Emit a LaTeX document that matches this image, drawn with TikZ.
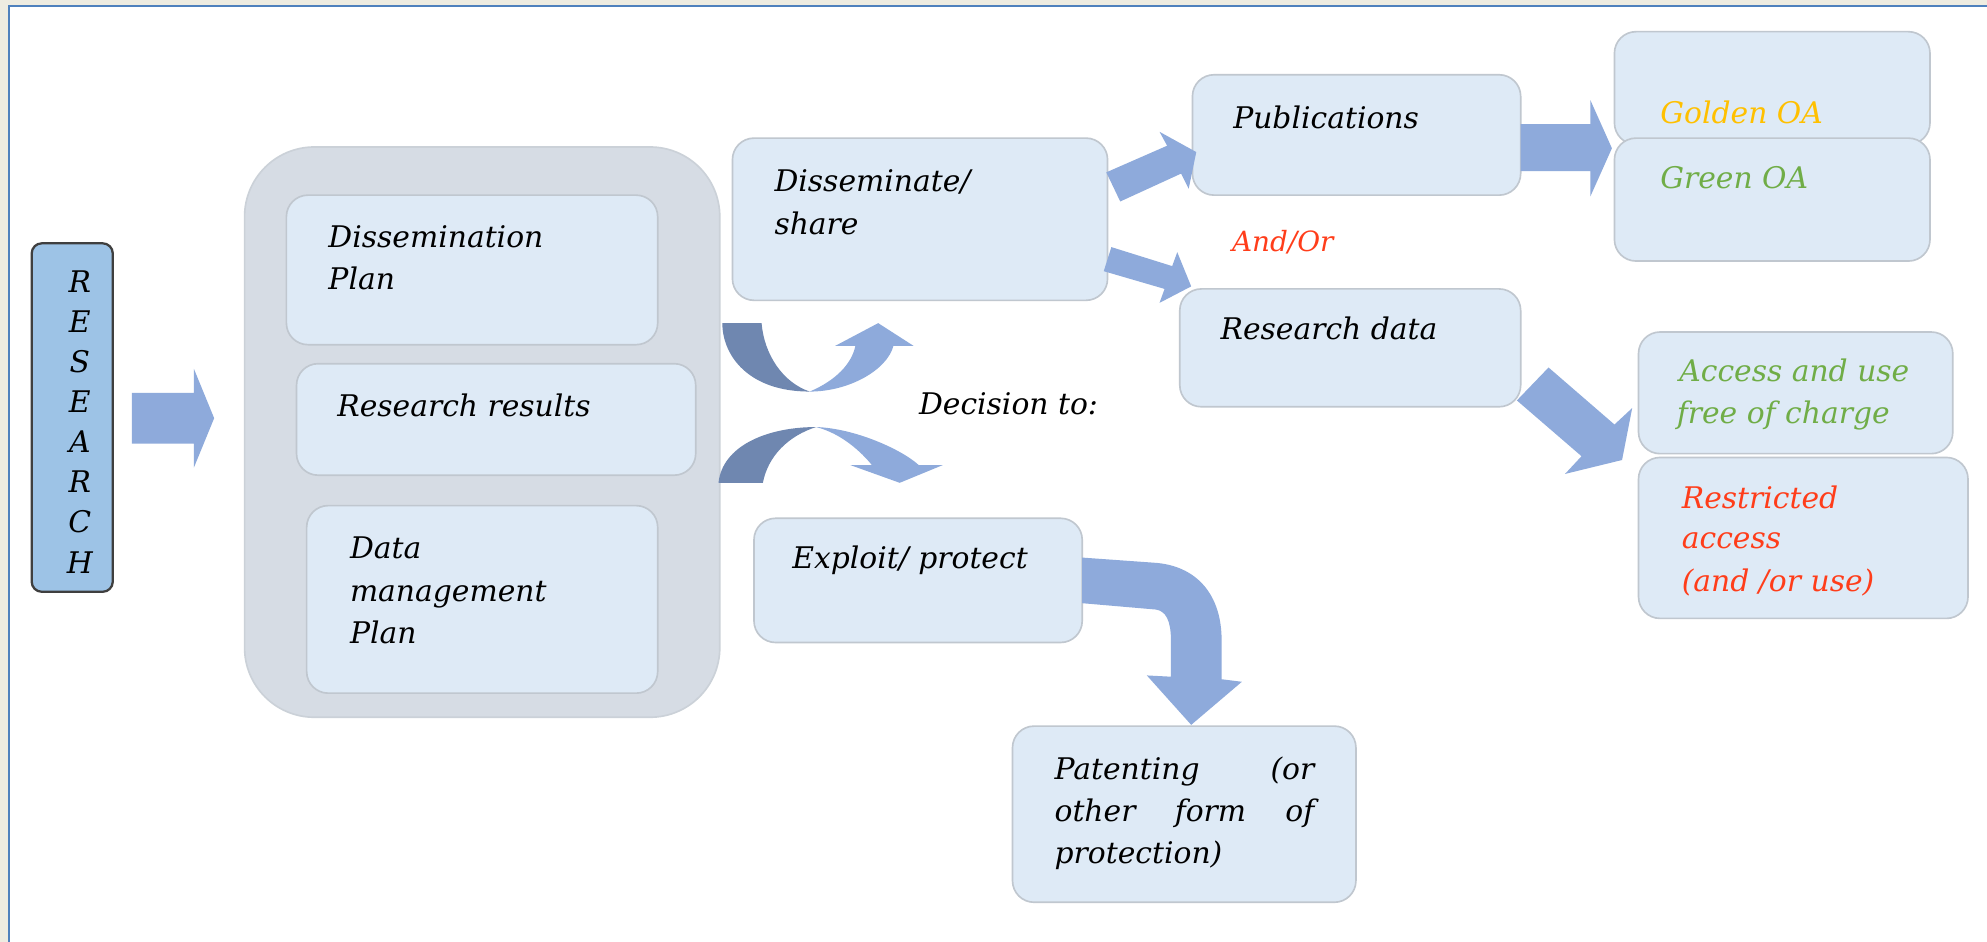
\documentclass[tikz,border=0pt]{standalone}
\usepackage{fontspec}
\setmainfont{DejaVu Serif}
\definecolor{boxfill}{HTML}{DEEAF6}
\definecolor{boxline}{HTML}{C0C7CF}
\definecolor{contfill}{HTML}{D6DCE4}
\definecolor{contline}{HTML}{CBD1D8}
\definecolor{resfill}{HTML}{9DC3E6}
\definecolor{resline}{HTML}{3F3F3F}
\definecolor{arrowc}{HTML}{8EAADB}
\definecolor{arrowd}{HTML}{6F87B0}
\definecolor{gold}{HTML}{FFC000}
\definecolor{grn}{HTML}{70AD47}
\definecolor{redo}{HTML}{FF3D1A}
\definecolor{framebg}{HTML}{EEECE1}
\definecolor{frameline}{HTML}{4F81BD}
\tikzset{
  box/.style={draw=boxline, fill=boxfill, line width=1.3pt, rounded corners=17pt, inner sep=0pt},
  txt/.style={font=\fontsize{23.5}{33}\selectfont\itshape, anchor=base west, inner sep=0pt},
  blockarrow/.style={fill=arrowc},
  darkarrow/.style={fill=arrowd}
}
\begin{document}
\begin{tikzpicture}[x=1pt,y=-1pt]
\useasboundingbox (0,0) rectangle (1568,743);
\fill[white] (0,0) rectangle (1568,743);
\fill[framebg] (0,0) rectangle (1568,4.5);
\fill[framebg] (0,0) rectangle (6.5,743);
\draw[frameline, line width=1.8pt] (7.3,743) -- (7.3,4.6) -- (1568,4.6);

% boxes
\node[draw=resline, fill=resfill, line width=1.8pt, rounded corners=8pt, inner sep=0pt,
      minimum width=64pt, minimum height=275pt] (research) at (57,329.5) {};
\node[draw=contline, fill=contfill, line width=1.3pt, rounded corners=55pt, inner sep=0pt,
      minimum width=375pt, minimum height=450pt] (container) at (380.5,341) {};
\node[box, minimum width=293pt, minimum height=118pt] (dplan) at (372.5,213) {};
\node[box, minimum width=315pt, minimum height=88pt] (rresults) at (391.5,331) {};
\node[box, minimum width=277pt, minimum height=148pt] (dmp) at (380.5,473) {};
\node[box, minimum width=296pt, minimum height=128pt] (dissem) at (726,173) {};
\node[box, minimum width=259pt, minimum height=95pt] (pubs) at (1070.5,106.5) {};
\node[box, minimum width=249pt, minimum height=89pt] (golden) at (1398.5,69.5) {};
\node[box, minimum width=249pt, minimum height=97pt] (green) at (1398.5,157.5) {};
\node[box, minimum width=269pt, minimum height=93pt] (rdata) at (1065.5,274.5) {};
\node[box, minimum width=248pt, minimum height=96pt] (access) at (1417,310) {};
\node[box, minimum width=260pt, minimum height=127pt] (restricted) at (1423,424.5) {};
\node[box, minimum width=259pt, minimum height=98pt] (exploit) at (724.5,458) {};
\node[box, minimum width=271pt, minimum height=139pt] (patent) at (934.5,642.5) {};

% block arrows
\fill[blockarrow] (104,310) -- (153,310) -- (153,291) -- (169,330) -- (153,369) -- (153,350) -- (104,350) -- cycle;
\fill[blockarrow] (873,136) -- (921,115) -- (915,104) -- (944,120) -- (938,149) -- (932,137) -- (884,159) -- cycle;
\fill[blockarrow] (877,195) -- (925,210) -- (929,199) -- (940,226) -- (915,239) -- (919,228) -- (871,214) -- cycle;
\fill[blockarrow] (1200,98) -- (1255,98) -- (1255,79) -- (1272,117) -- (1255,155) -- (1255,135) -- (1200,135) -- cycle;
\fill[blockarrow] (1222,290) -- (1274,335) -- (1288,322) -- (1280,363) -- (1235,374) -- (1248,360) -- (1197,316) -- cycle;
\fill[blockarrow] (854,440) -- (910,444) .. controls (945,446) and (964,470) .. (964,505) -- (964,536) -- (980,538) -- (940,572) -- (905,533) -- (924,534) -- (924,505) .. controls (924,490) and (920,482) .. (912,481) -- (854,476) -- cycle;

% curved arrows (decision)
\fill[darkarrow] (570,255) .. controls (570,280) and (590,309) .. (639,309) .. controls (618,302) and (603,280) .. (601,255) -- cycle;
\fill[blockarrow] (639,309) .. controls (670,309) and (700,292) .. (705,273) -- (721,273) -- (693,255) -- (659,273) -- (675,273) .. controls (672,287) and (660,300) .. (639,309) -- cycle;
\fill[darkarrow] (567,381) .. controls (570,352) and (605,337) .. (644,337) .. controls (622,344) and (606,360) .. (602,381) -- cycle;
\fill[blockarrow] (644,337) .. controls (675,338) and (712,355) .. (725,367) -- (744,367) -- (710,381) -- (671,367) -- (688,367) .. controls (680,357) and (664,342) .. (644,337) -- cycle;

% texts
\foreach \l [count=\i] in {R,E,S,E,A,R,C,H}
  \node[txt, anchor=base] (L\i) at (63,{231+31.6*(\i-1)}) {\l};
\node[txt] (t1) at (259,195.5) {Dissemination};
\node[txt] (t2) at (259,228.5) {Plan};
\node[txt] (t3) at (266,329) {Research results};
\node[txt] (t4) at (276,441) {Data};
\node[txt] (t5) at (276,474.5) {management};
\node[txt] (t6) at (276,508) {Plan};
\node[txt] (t7) at (611,151) {Disseminate/};
\node[txt] (t8) at (611,185) {share};
\node[txt] (t9) at (725,327) {Decision to:};
\node[txt] (t10) at (973,101.5) {Publications};
\node[txt, text=gold] (t11) at (1310,97.3) {Golden OA};
\node[txt, text=grn] (t12) at (1310,149) {Green OA};
\node[txt, text=redo, font=\fontsize{22}{30}\selectfont\itshape] (t13) at (972,198.5) {And/Or};
\node[txt] (t14) at (963,268) {Research data};
\node[txt, text=grn] (t15) at (1325,301) {Access and use};
\node[txt, text=grn] (t16) at (1323,334.3) {free of charge};
\node[txt, text=redo] (t17) at (1327,401) {Restricted};
\node[txt, text=redo] (t18) at (1327,433.2) {access};
\node[txt, text=redo] (t19) at (1327,466.4) {(and /or use)};
\node[txt] (t20) at (625,448.5) {Exploit/ protect};
\node[txt] (t21) at (832,615) {\hbox to 205pt{Patenting\hfill(or}};
\node[txt] (t22) at (832,648.4) {\hbox to 205pt{other\hfill form\hfill of}};
\node[txt] (t23) at (832,681.3) {protection)};
\end{tikzpicture}
\end{document}
